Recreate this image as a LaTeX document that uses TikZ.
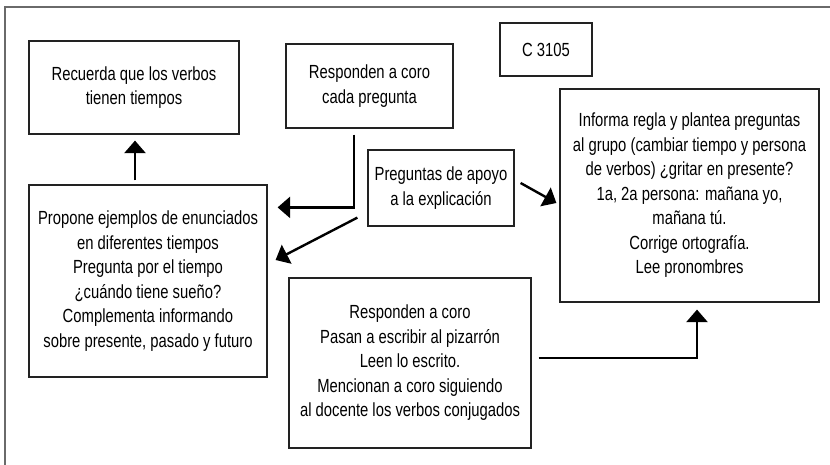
\documentclass[tikz,border=0pt]{standalone}
\usepackage{fontspec}
\setmainfont{Liberation Sans}[FakeStretch=0.78]
\usetikzlibrary{arrows.meta, positioning, calc}
\definecolor{framegray}{HTML}{6A6A6A}
\definecolor{boxline}{HTML}{222222}

\begin{document}
\begin{tikzpicture}[x=1pt, y=-1pt,
    box/.style={draw=boxline, line width=1.2pt, align=center, inner sep=0pt,
                font=\fontsize{19}{24.5}\selectfont},
    arr/.style={-{Triangle[length=12.5pt, width=21pt]}, line width=2.4pt, black},
    frame/.style={draw=framegray, line width=2pt}
  ]
    \useasboundingbox (0,0) rectangle (830,465);
    \draw[frame] (830,7.5) -- (4.5,7.5) -- (4.5,465);

    \node[box, minimum width=210pt, minimum height=93pt] (recuerda) at (134,87.5)
      {Recuerda que los verbos\\ tienen tiempos};
    \node[box, minimum width=167pt, minimum height=84pt] (coro) at (369.5,86)
      {Responden a coro\\ cada pregunta};
    \node[box, minimum width=92pt, minimum height=53pt] (clave) at (546,49.5)
      {C 3105};
    \node[box, minimum width=146pt, minimum height=76pt] (apoyo) at (441,188)
      {Preguntas de apoyo\\ a la explicación};
    \node[box, minimum width=259pt, minimum height=213pt] (informa) at (689.5,195.5)
      {Informa regla y plantea preguntas\\ al grupo (cambiar tiempo y persona\\
       de verbos) ¿gritar en presente?\\ 1a, 2a persona: mañana yo,\\
       mañana tú.\\ Corrige ortografía.\\ Lee pronombres};
    \node[box, minimum width=238pt, minimum height=192pt] (propone) at (148,281)
      {Propone ejemplos de enunciados\\ en diferentes tiempos\\ Pregunta por el tiempo\\
       ¿cuándo tiene sueño?\\ Complementa informando\\ sobre presente, pasado y futuro};
    \node[box, minimum width=242pt, minimum height=170pt] (pizarron) at (410,363)
      {Responden a coro\\ Pasan a escribir al pizarrón\\ Leen lo escrito.\\
       Mencionan a coro siguiendo\\ al docente los verbos conjugados};

    \draw[arr] ([xshift=1pt, yshift=4pt]recuerda.south |- propone.north)
      -- ([xshift=1pt, yshift=-6pt]recuerda.south);
    \draw[arr] ([xshift=-15.5pt, yshift=-6pt]coro.south)
      |- ([xshift=10pt, yshift=-23pt]propone.north east);
    \draw[arr] ([xshift=-10pt, yshift=9pt]apoyo.south west)
      -- ([xshift=8pt, yshift=21pt]propone.east);
    \draw[arr] ([xshift=6pt, yshift=5pt]apoyo.east)
      -- ([xshift=-3pt, yshift=-7.5pt]informa.west);
    \draw[arr] ([xshift=7pt, yshift=5pt]pizarron.east)
      -| ([xshift=7.5pt, yshift=-7pt]informa.south);
  \end{tikzpicture}
\end{document}
